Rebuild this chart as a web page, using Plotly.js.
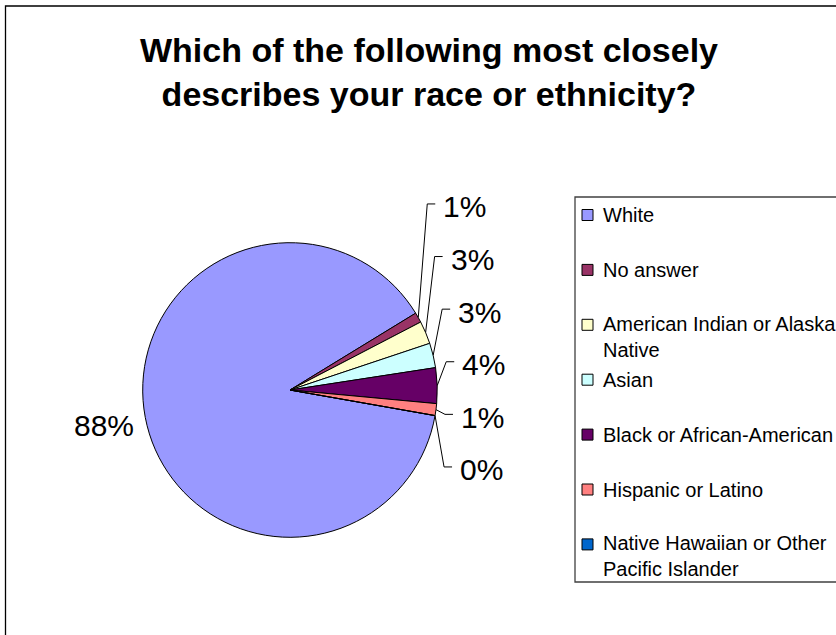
<!DOCTYPE html>
<html><head><meta charset="utf-8">
<script src="https://cdn.plot.ly/plotly-3.0.1.min.js"></script>
<style>html,body{margin:0;padding:0;background:#fff}#chart{width:836px;height:635px}</style>
</head><body><div id="chart"></div>
<script>
// ---- data ----
const categories = ['White', 'No answer', 'American Indian or Alaska Native', 'Asian',
  'Black or African-American', 'Hispanic or Latino', 'Native Hawaiian or Other Pacific Islander'];
const shares = [88.4, 1.1, 2.5, 2.7, 3.9, 1.3, 0];
const sliceColors = ['#9999FF', '#993366', '#FFFFCC', '#CCFFFF', '#660066', '#FF8080', '#0066CC'];
const titleText = 'Which of the following most closely<br>describes your race or ethnicity?';

// ---- layout constants (pixels) ----
const W = 836, H = 635;
const CX = 290, CY = 390, R = 147.3, ROT = 100;
const FONT = 'Liberation Sans, Arial, sans-serif';
const px = x => x / W, py = y => 1 - y / H;

const total = shares.reduce((a, b) => a + b, 0);
const pctText = shares.map(v => Math.round(v / total * 100) + '%');

// mid angle of each slice (math radians) following Plotly's clockwise layout
let cum = 0; const mid = [];
shares.forEach(v => { const a = ROT + 360 * (cum + v / 2) / total; mid.push((90 - a) * Math.PI / 180); cum += v; });

const shapes = [];
const annotations = [];

// outer chart border
shapes.push({type: 'rect', xref: 'paper', yref: 'paper', x0: px(5.5), x1: px(W + 20), y0: py(H + 20), y1: py(6),
  line: {color: '#000000', width: 1.3}, fillcolor: 'rgba(0,0,0,0)', layer: 'below'});

// big slice label
{
  const k = 1.285;
  annotations.push({xref: 'paper', yref: 'paper', x: px(CX + k * R * Math.cos(mid[0])), y: py(CY - k * R * Math.sin(mid[0])),
    xanchor: 'center', yanchor: 'middle', text: pctText[0], showarrow: false,
    font: {family: FONT, size: 30, color: '#000'}});
}
// small slice labels stacked with leader lines
{
  const idx = shares.map((v, i) => i).slice(1);
  const gap = 52.6, center = CY - 0.35 * R;
  idx.forEach((i, j) => {
    const ly = center + (j - (idx.length - 1) / 2) * gap;
    const ex = CX + R * Math.cos(mid[i]), ey = CY - R * Math.sin(mid[i]);
    const elbowX = ex + 9, lineY = ly - 3;
    const textX = elbowX + 14;
    shapes.push({type: 'path', xref: 'paper', yref: 'paper',
      path: `M ${px(ex)} ${py(ey)} L ${px(elbowX)} ${py(lineY)} L ${px(elbowX + 8)} ${py(lineY)}`,
      line: {color: '#000', width: 1}});
    annotations.push({xref: 'paper', yref: 'paper', x: px(textX), y: py(ly), xanchor: 'left', yanchor: 'middle',
      text: pctText[i], showarrow: false, font: {family: FONT, size: 30, color: '#000'}});
  });
}

// legend box
const LX = 575, LTOP = 197, LBOT = 582, ITEM0 = 215, ISTEP = 54.9;
shapes.push({type: 'rect', xref: 'paper', yref: 'paper', x0: px(LX), x1: px(W + 20), y0: py(LBOT), y1: py(LTOP),
  line: {color: '#404040', width: 1.3}, fillcolor: 'rgba(0,0,0,0)'});
function wrap(s, n) {
  const words = s.split(' '); const lines = []; let cur = '';
  words.forEach(w => { if (cur && (cur + ' ' + w).length > n) { lines.push(cur); cur = w; } else cur = cur ? cur + ' ' + w : w; });
  lines.push(cur); return lines;
}
categories.forEach((c, i) => {
  const y = ITEM0 + i * ISTEP;
  shapes.push({type: 'rect', xref: 'paper', yref: 'paper', x0: px(582), x1: px(593), y0: py(y + 5.5), y1: py(y - 5.5),
    fillcolor: sliceColors[i], line: {color: '#000', width: 1}});
  const lines = wrap(c, 25);
  annotations.push({xref: 'paper', yref: 'paper', x: px(601), y: py(y + (lines.length - 1) * 12), xanchor: 'left', yanchor: 'middle',
    align: 'left', text: lines.join('<br>'), showarrow: false, font: {family: FONT, size: 20, color: '#000'}});
});

const trace = {
  type: 'pie', labels: categories, values: shares, sort: false, direction: 'clockwise', rotation: ROT,
  marker: {colors: sliceColors, line: {color: '#000000', width: 1}},
  textinfo: 'none', hoverinfo: 'label+percent', showlegend: false,
  domain: {x: [px(CX - R), px(CX + R)], y: [py(CY + R), py(CY - R)]}
};

const layout = {
  width: W, height: H, margin: {l: 0, r: 0, t: 0, b: 0},
  paper_bgcolor: '#ffffff', plot_bgcolor: '#ffffff', showlegend: false,
  title: {text: titleText, font: {family: FONT, size: 34, color: '#000', weight: 'bold'},
    x: px(429), xref: 'paper', xanchor: 'center', y: py(62), yref: 'container', yanchor: 'middle'},
  shapes: shapes, annotations: annotations
};

Plotly.newPlot('chart', [trace], layout, {displayModeBar: false, staticPlot: true});
</script>
</body></html>
